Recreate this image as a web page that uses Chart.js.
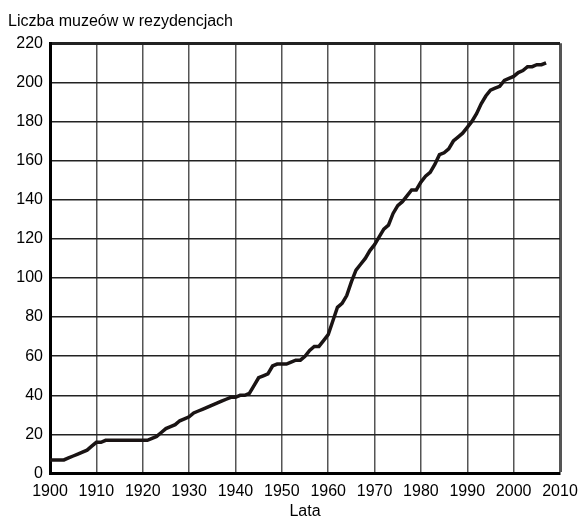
<!DOCTYPE html>
<html>
<head>
<meta charset="utf-8">
<script src="https://cdn.jsdelivr.net/npm/chart.js@4/dist/chart.umd.min.js"></script>
<style>
  html, body { margin: 0; padding: 0; background: #fff; }
  #wrap { width: 586px; height: 521px; }
</style>
</head>
<body>
<div id="wrap"><canvas id="museumChart"></canvas></div>
<script>
// years on X, number of museums on Y
const years = [];
for (let y = 1900; y <= 2007; y++) years.push(y);

const museums = [
  7, 7, 7, 7, 8, 9, 10, 11, 12, 14,         // 1900-1909
  16, 16, 17, 17, 17, 17, 17, 17, 17, 17,   // 1910-1919
  17, 17, 18, 19, 21, 23, 24, 25, 27, 28,   // 1920-1929
  29, 31, 32, 33, 34, 35, 36, 37, 38, 39,   // 1930-1939
  39, 40, 40, 41, 45, 49, 50, 51, 55, 56,   // 1940-1949
  56, 56, 57, 58, 58, 60, 63, 65, 65, 68,   // 1950-1959
  71, 78, 85, 87, 91, 98, 104, 107, 110, 114, // 1960-1969
  117, 121, 125, 127, 133, 137, 139, 142, 145, 145, // 1970-1979
  149, 152, 154, 158, 163, 164, 166, 170, 172, 174, // 1980-1989
  177, 180, 184, 189, 193, 196, 197, 198, 201, 202, // 1990-1999
  203, 205, 206, 208, 208, 209, 209, 210              // 2000-2007
];

const chartTitle = 'Liczba muzeów w rezydencjach';
const xTitle = 'Lata';

const font = { family: "'Liberation Sans', Arial, sans-serif", size: 16 };

const points = years.map((yr, i) => ({ x: yr, y: museums[i] }));

const ctx = document.querySelector('#museumChart').getContext('2d');
new Chart(ctx, {
  type: 'line',
  data: {
    datasets: [{
      data: points,
      borderColor: '#1a1414',
      borderWidth: 3.5,
      pointRadius: 0,
      tension: 0,
      fill: false
    }]
  },
  options: {
    responsive: true,
    maintainAspectRatio: false,
    animation: false,
    layout: { padding: { left: 8, right: 26, top: 0, bottom: 0 } },
    plugins: {
      legend: { display: false },
      tooltip: { enabled: false },
      title: {
        display: true,
        text: chartTitle,
        align: 'start',
        color: '#000',
        font: { ...font, weight: 'normal' },
        padding: { top: 12, bottom: 12 }
      }
    },
    scales: {
      x: {
        type: 'linear',
        min: 1900,
        max: 2010,
        ticks: {
          stepSize: 10,
          color: '#000',
          font: font,
          padding: 8,
          maxRotation: 0,
          callback: v => String(v)
        },
        grid: {
          color: '#555',
          lineWidth: c => (c.index === 11 ? 3 : 1.5),
          drawTicks: false
        },
        border: { color: '#000', width: 3 },
        title: {
          display: true,
          text: xTitle,
          color: '#000',
          font: font,
          padding: { top: -7, bottom: 0 }
        }
      },
      y: {
        min: 0,
        max: 220,
        afterFit: s => { s.width = 42; },
        ticks: {
          stepSize: 20,
          color: '#000',
          font: font,
          padding: 7
        },
        grid: {
          color: '#222',
          lineWidth: c => (c.index === 11 ? 3 : 1.5),
          drawTicks: false
        },
        border: { color: '#000', width: 3 }
      }
    }
  }
});
</script>
</body>
</html>
